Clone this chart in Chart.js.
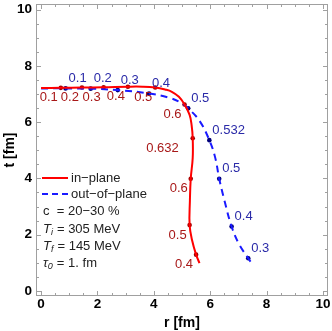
<!DOCTYPE html>
<html>
<head>
<meta charset="utf-8">
<script src="https://cdn.jsdelivr.net/npm/chart.js@4/dist/chart.umd.min.js"></script>
<style>
  html, body { margin: 0; padding: 0; background: #fff; }
  #wrap { width: 332px; height: 331px; }
</style>
</head>
<body>
<div id="wrap"><canvas id="chart"></canvas></div>
<script>
// freeze-out curves (r, t in fm)
const inPlaneR = [0, 0.70, 1.45, 2.22, 3.08, 3.60, 4.05, 4.40, 4.64, 4.89, 5.09, 5.27, 5.34, 5.38, 5.38, 5.31, 5.28, 5.27, 5.36, 5.50, 5.62];
const inPlaneT = [7.21, 7.22, 7.23, 7.24, 7.26, 7.26, 7.23, 7.16, 7.08, 6.90, 6.63, 6.26, 5.90, 5.43, 4.73, 3.99, 3.20, 2.34, 1.79, 1.29, 0.99];

const outPlaneR = [0, 0.87, 1.76, 2.72, 3.83, 4.54, 4.95, 5.22, 5.62, 5.97, 6.18, 6.32, 6.51, 6.76, 7.02, 7.35, 7.47];
const outPlaneT = [7.20, 7.20, 7.19, 7.14, 7.02, 6.87, 6.70, 6.49, 6.05, 5.36, 4.73, 3.99, 3.20, 2.29, 1.67, 1.16, 0.99];

// marked points with their velocity labels
const inMarkR = [0.70, 1.45, 2.22, 3.08, 4.05, 5.09, 5.38, 5.31, 5.27, 5.50];
const inMarkT = [7.22, 7.23, 7.24, 7.26, 7.23, 6.63, 5.43, 3.99, 2.34, 1.29];
const inMarkLabels = ['0.1', '0.2', '0.3', '0.4', '0.5', '0.6', '0.632', '0.6', '0.5', '0.4'];

const outMarkR = [0.87, 1.76, 2.72, 3.83, 5.22, 5.97, 6.32, 6.76, 7.35];
const outMarkT = [7.20, 7.19, 7.14, 7.02, 6.49, 5.36, 3.99, 2.29, 1.16];
const outMarkLabels = ['0.1', '0.2', '0.3', '0.4', '0.5', '0.532', '0.5', '0.4', '0.3'];

const axisTicks = [0, 2, 4, 6, 8, 10];

const FONT = 'Liberation Sans, Arial, sans-serif';

function toXY(xs, ys) {
    return xs.map((x, i) => ({ x: x, y: ys[i] }));
}

// frame, inward ticks, point labels and the text box
const decor = {
    id: 'decor',
    afterDraw(chart) {
        const ctx = chart.ctx;
        const a = chart.chartArea;
        const xs = chart.scales.x;
        const ys = chart.scales.y;
        ctx.save();
        ctx.strokeStyle = '#a0a0a0';
        ctx.lineWidth = 1;
        ctx.strokeRect(a.left + 0.5, a.top + 0.5, a.right - a.left - 1, a.bottom - a.top - 1);
        for (let v = 0; v <= 10.001; v += 0.5) {
            const len = (v % 2 === 0) ? 5 : 3;
            const px = Math.round(xs.getPixelForValue(v)) + 0.5;
            const py = Math.round(ys.getPixelForValue(v)) + 0.5;
            ctx.beginPath();
            ctx.moveTo(px, a.bottom); ctx.lineTo(px, a.bottom - len);
            ctx.moveTo(px, a.top); ctx.lineTo(px, a.top + len);
            ctx.moveTo(a.left, py); ctx.lineTo(a.left + len, py);
            ctx.moveTo(a.right, py); ctx.lineTo(a.right - len, py);
            ctx.stroke();
        }

        ctx.font = '13px ' + FONT;
        ctx.textBaseline = 'middle';
        // in-plane labels: below left of the point
        ctx.fillStyle = '#a81818';
        ctx.textAlign = 'right';
        chart.getDatasetMeta(2).data.forEach((pt, i) => {
            const dx = inMarkLabels[i] === '0.632' ? -14 : -3;
            ctx.fillText(inMarkLabels[i], pt.x + dx, pt.y + 10);
        });
        // out-of-plane labels: above right of the point
        ctx.fillStyle = '#2a2aa8';
        ctx.textAlign = 'left';
        chart.getDatasetMeta(3).data.forEach((pt, i) => {
            ctx.fillText(outMarkLabels[i], pt.x + 3, pt.y - 10);
        });

        // legend and parameters
        ctx.lineWidth = 2;
        ctx.strokeStyle = '#ff0000';
        ctx.beginPath(); ctx.moveTo(42, 178); ctx.lineTo(68, 178); ctx.stroke();
        ctx.strokeStyle = '#1a1aff';
        ctx.setLineDash([6, 4]);
        ctx.beginPath(); ctx.moveTo(42, 194); ctx.lineTo(68, 194); ctx.stroke();
        ctx.setLineDash([]);
        ctx.fillStyle = '#222';
        ctx.textAlign = 'left';
        ctx.fillText('in\u2212plane', 71, 178);
        ctx.fillText('out\u2212of\u2212plane', 71, 194);
        ctx.fillText('c  = 20\u221230 %', 43, 211);
        const sub = (main, s, rest, y) => {
            ctx.font = 'italic 13px ' + FONT;
            ctx.fillText(main, 43, y);
            let x = 43 + ctx.measureText(main).width;
            ctx.font = 'italic 9px ' + FONT;
            ctx.fillText(s, x, y + 3);
            x += ctx.measureText(s).width + 4;
            ctx.font = '13px ' + FONT;
            ctx.fillText(rest, x, y);
        };
        sub('T', 'i', '= 305 MeV', 229);
        sub('T', 'f', '= 145 MeV', 246);
        sub('\u03c4', '0', '= 1. fm', 263);
        ctx.restore();
    }
};

new Chart(document.getElementById('chart'), {
    type: 'scatter',
    data: {
        datasets: [
            {
                label: 'in-plane',
                data: toXY(inPlaneR, inPlaneT),
                showLine: true,
                borderColor: '#ff0000',
                borderWidth: 2,
                tension: 0.4,
                pointRadius: 0
            },
            {
                label: 'out-of-plane',
                data: toXY(outPlaneR, outPlaneT),
                showLine: true,
                borderColor: '#1a1aff',
                borderWidth: 2,
                borderDash: [7, 5],
                tension: 0.4,
                pointRadius: 0
            },
            {
                label: 'in-plane points',
                data: toXY(inMarkR, inMarkT),
                pointRadius: 2.3,
                pointBackgroundColor: '#9a0000',
                pointBorderWidth: 0
            },
            {
                label: 'out-of-plane points',
                data: toXY(outMarkR, outMarkT),
                pointRadius: 2.3,
                pointBackgroundColor: '#00007a',
                pointBorderWidth: 0
            }
        ]
    },
    options: {
        responsive: true,
        maintainAspectRatio: false,
        animation: false,
        layout: { padding: { top: 1, right: 2, left: 0, bottom: 0 } },
        plugins: { legend: { display: false }, tooltip: { enabled: false } },
        scales: {
            x: {
                type: 'linear',
                min: -0.18,
                max: 10.18,
                afterBuildTicks: s => { s.ticks = axisTicks.map(v => ({ value: v })); },
                afterFit: s => { s.height = 35; s.paddingLeft = 0; s.paddingRight = 0; },
                grid: { display: false, drawTicks: false },
                border: { display: false },
                ticks: { color: '#000', padding: 0, font: { family: FONT, size: 13.5, weight: 'bold' } },
                title: { display: true, text: 'r [fm]', color: '#000', padding: { top: 0, bottom: -1 },
                         font: { family: FONT, size: 14, weight: 'bold' } }
            },
            y: {
                type: 'linear',
                min: -0.18,
                max: 10.2,
                afterBuildTicks: s => { s.ticks = axisTicks.map(v => ({ value: v })); },
                afterFit: s => { s.width = 36; s.paddingTop = 0; s.paddingBottom = 0; },
                grid: { display: false, drawTicks: false },
                border: { display: false },
                ticks: { color: '#000', padding: 4, font: { family: FONT, size: 13.5, weight: 'bold' } },
                title: { display: true, text: 't [fm]', color: '#000', padding: { top: 2, bottom: 0 },
                         font: { family: FONT, size: 14, weight: 'bold' } }
            }
        }
    },
    plugins: [decor]
});
</script>
</body>
</html>
